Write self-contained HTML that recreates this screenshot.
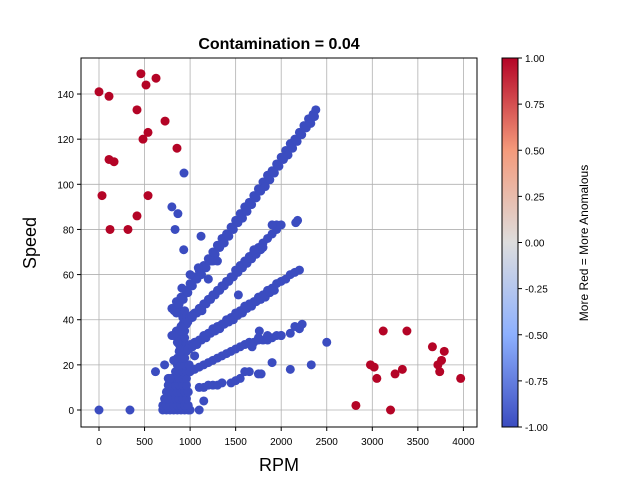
<!DOCTYPE html>
<html><head><meta charset="utf-8"><style>
body{margin:0;background:#fff;}
svg text{font-family:"Liberation Sans","DejaVu Sans",sans-serif;}
</style></head><body>
<svg id="chart" width="640" height="480" viewBox="0 0 640 480" xmlns="http://www.w3.org/2000/svg">
<defs>
<linearGradient id="cw" x1="0" y1="1" x2="0" y2="0">
<stop offset="0" stop-color="#3b4cc0"/><stop offset="0.25" stop-color="#8db0fe"/><stop offset="0.5" stop-color="#dddddd"/><stop offset="0.75" stop-color="#f49a7b"/><stop offset="1" stop-color="#b40426"/>
</linearGradient>
</defs>
<g id="grid"></g>
<g id="points"></g>
<rect x="81" y="58" width="396" height="369" fill="none" stroke="#000" stroke-width="1"/>
<g id="ticks"></g>
<text x="279" y="49" font-size="16" font-weight="bold" text-anchor="middle">Contamination = 0.04</text>
<text x="279" y="471" font-size="18" text-anchor="middle">RPM</text>
<text x="36" y="243" font-size="18" text-anchor="middle" transform="rotate(-90 36 243)">Speed</text>
<rect x="502" y="58" width="16" height="369" fill="url(#cw)" stroke="#000" stroke-width="1"/>
<g id="cbticks"></g>
<text x="588" y="243" font-size="12" text-anchor="middle" transform="rotate(-90 588 243)">More Red = More Anomalous</text>
</svg>
<script>
const xTicks=[0,500,1000,1500,2000,2500,3000,3500,4000];
const yTicks=[0,20,40,60,80,100,120,140];
const cbTicks=[1.00,0.75,0.50,0.25,0.00,-0.25,-0.50,-0.75,-1.00];
const line1Rpm=[800,850,900,950,1000,1050,1100,1150,1200,1250,1300,1350,1400,1450,1500,1550,1600,1650,1700,1750,1800,1850,1900,1950,2000,2050,2100,2150,2200,2250,2300,2350,2380];
const line1Speed=[45,48,50,53,56,59,62,64,67,70,73,76,78,81,84,87,90,92,95,98,101,104,106,109,112,115,118,120,123,126,129,131,133];
const line1bRpm=[825,875,925,975,1025,1075,1125,1175,1225,1275,1325,1375,1425,1475,1525,1575,1625,1675,1725,1775,1825,1875,1925,1975,2025,2075,2125,2175,2225,2275,2325,2365];
const line1bSpeed=[44,47,49,52,55,58,60,63,66,69,72,74,77,80,83,85,88,91,94,97,99,102,105,108,111,113,116,119,122,125,127,130];
const line2Rpm=[800,850,900,950,1000,1050,1100,1150,1200,1250,1300,1350,1400,1450,1500,1550,1600,1650,1700,1750,1800,1850,1900,1950,2000];
const line2Speed=[33,35,37,39,41,43,45,47,49,51,53,55,57,59,62,64,66,68,70,72,74,76,78,80,82];
const line2bRpm=[875,925,975,1025,1075,1125,1175,1225,1275,1325,1375,1425,1475,1525,1575,1625,1675,1725,1775];
const line2bSpeed=[35,37,39,41,43,45,47,49,51,53,55,57,59,61,63,65,67,69,71];
const line3Rpm=[900,950,1000,1050,1100,1150,1200,1250,1300,1350,1400,1450,1500,1550,1600,1650,1700,1750,1800,1850,1900,1950,2000,2050,2100,2150,2200];
const line3Speed=[26,27,29,30,31,33,34,36,37,38,40,41,43,44,46,47,48,50,51,53,54,56,57,58,60,61,62];
const line3bRpm=[975,1025,1075,1125,1175,1225,1275,1325,1375,1425,1475,1525,1575,1625,1675,1725,1775,1825,1875,1925];
const line3bSpeed=[27,28,29,31,32,34,35,36,38,39,40,42,43,45,46,48,49,50,52,53];
const line4Rpm=[1000,1050,1100,1150,1200,1250,1300,1350,1400,1450,1500,1550,1600,1650,1700,1750,1800,1850,1900,1950,2000,2100,2200,2230,1760,1680,1750];
const line4Speed=[17,18,19,20,21,22,23,24,25,26,27,28,29,30,30,31,31,31,32,33,33,34,36,38,35,28,32];
const otherBlueRpm=[1150,1200,1250,1300,1350,1450,1500,1550,1600,1650,1750,1780,1900,2100,2330,2500,2000,2150,1850,933,800,866,835,1120,930,1000,910,1090,1250,1530,620,720,340,0,1100,1150,1100,780,2180,2160,1950,1900,1800,1700,1050,1020,1200,1300,850,820,1130];
const otherBlueSpeed=[10,11,11,11,12,12,13,14,17,17,16,16,21,18,20,30,33,37,33,105,90,87,80,77,71,60,54,63,66,51,17,20,0,0,0,4,10,14,84,83,82,82,72,71,24,42,58,66,43,33,44];
const clusterRpm=[700,740,780,820,860,900,940,980,1000,700,740,780,820,860,900,940,980,720,760,800,840,880,920,960,740,780,820,860,900,940,980,760,800,840,880,920,960,800,840,880,920,960,840,880,920,960,860,900,940,860,900,940,880,920,960,880,920,960,900,940,900,940,920,960,920,960,900,940,880,920,760,990,820,860,990];
const clusterSpeed=[0,0,0,0,0,0,0,0,0,2,2,2,2,2,2,2,2,5,5,5,5,5,5,5,8,8,8,8,8,8,8,11,11,11,11,11,11,14,14,14,14,14,17,17,17,17,20,20,20,23,23,23,26,26,26,29,29,29,32,32,35,35,38,38,41,41,44,44,47,50,14,20,22,30,27];
const redRpm=[0,110,460,516,626,417,725,538,483,856,110,165,33,538,417,121,318,2820,2980,3050,3020,3120,3200,3250,3330,3380,3660,3720,3740,3760,3790,3970];
const redSpeed=[141,139,149,144,147,133,128,123,120,116,111,110,95,95,86,80,80,2,20,14,19,35,0,16,18,35,28,20,17,22,26,14];

const NS='http://www.w3.org/2000/svg';
const X=v=>99+v*0.0911;
const Y=v=>410-v*2.257;
const CB=v=>427-(v+1)/2*369;
function mk(tag,attrs,parent){const e=document.createElementNS(NS,tag);for(const k in attrs)e.setAttribute(k,attrs[k]);parent.appendChild(e);return e;}
const grid=document.getElementById('grid'),ticks=document.getElementById('ticks'),pts=document.getElementById('points'),cbt=document.getElementById('cbticks');
xTicks.forEach(t=>{
  const l=mk('line',{x1:X(t),x2:X(t),y1:58,y2:427,stroke:'#b0b0b0','stroke-width':0.8},grid);
  
  
  mk('line',{x1:X(t),x2:X(t),y1:427,y2:431,stroke:'#000'},ticks);
  const tx=mk('text',{x:X(t),y:445,'font-size':10,'text-anchor':'middle'},ticks);tx.textContent=t;
  
  
});
yTicks.forEach(t=>{
  const l=mk('line',{x1:81,x2:477,y1:Y(t),y2:Y(t),stroke:'#b0b0b0','stroke-width':0.8},grid);
  
  
  mk('line',{x1:77,x2:81,y1:Y(t),y2:Y(t),stroke:'#000'},ticks);
  const tx=mk('text',{x:74,y:Y(t)+4,'font-size':10,'text-anchor':'end'},ticks);tx.textContent=t;
  
  
});
cbTicks.forEach(t=>{
  mk('line',{x1:518,x2:522,y1:CB(t),y2:CB(t),stroke:'#000'},cbt);
  const tx=mk('text',{x:525,y:CB(t)+4,'font-size':10},cbt);tx.textContent=t.toFixed(2);
  
  
});
function plot(rs,ss,color,name){
  rs.forEach((r,i)=>{
    const c=mk('circle',{cx:X(r),cy:Y(ss[i]),r:4.5,fill:color},pts);
    
    
  });
}
plot(clusterRpm,clusterSpeed,'#3b4cc0','normal-point');
plot(line1Rpm,line1Speed,'#3b4cc0','normal-point');
plot(line1bRpm,line1bSpeed,'#3b4cc0','normal-point');
plot(line2Rpm,line2Speed,'#3b4cc0','normal-point');
plot(line2bRpm,line2bSpeed,'#3b4cc0','normal-point');
plot(line3Rpm,line3Speed,'#3b4cc0','normal-point');
plot(line3bRpm,line3bSpeed,'#3b4cc0','normal-point');
plot(line4Rpm,line4Speed,'#3b4cc0','normal-point');
plot(otherBlueRpm,otherBlueSpeed,'#3b4cc0','normal-point');
plot(redRpm,redSpeed,'#b40426','anomaly-point');
</script>
</body></html>
